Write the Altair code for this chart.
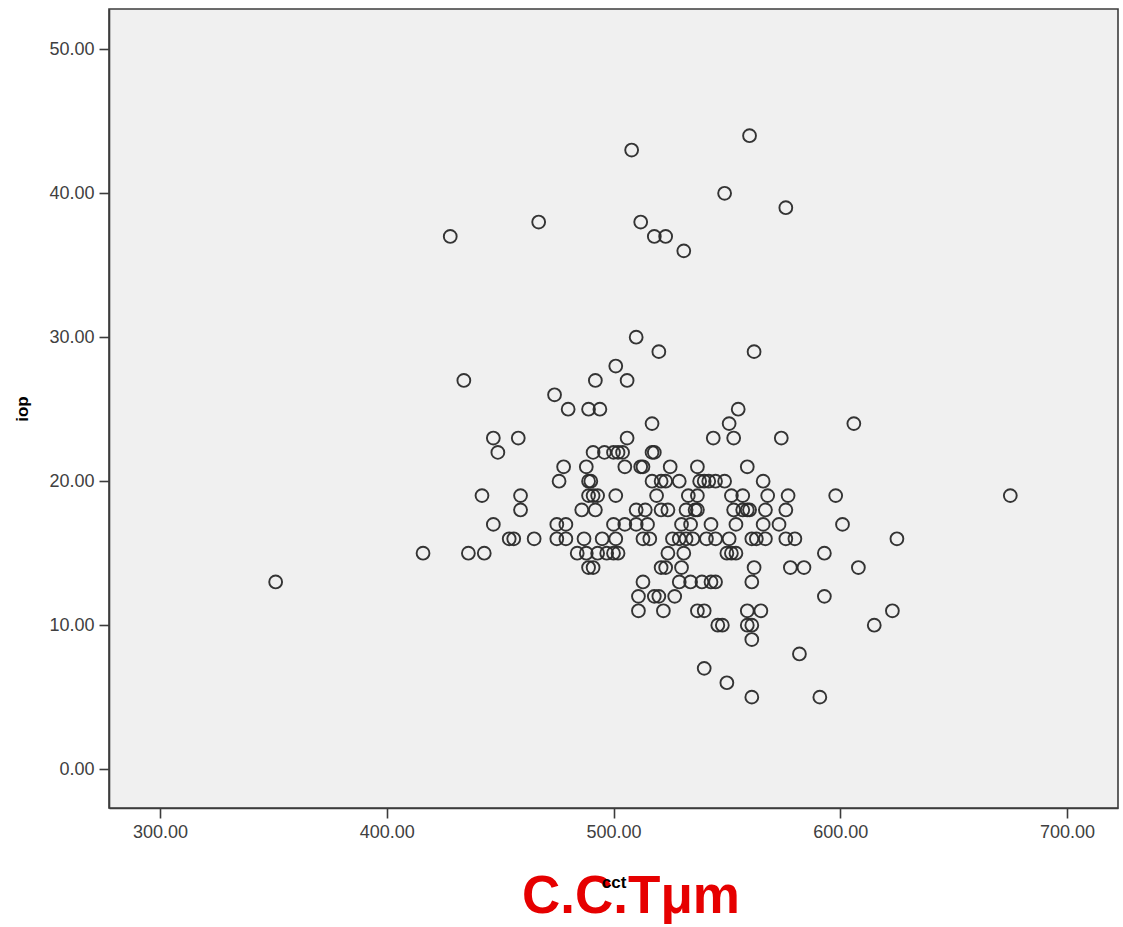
import altair as alt
import pandas as pd

# cct (x) and iop (y) values
cct = [
    560, 508, 549, 576, 467, 512, 428, 518, 523, 531,
    510, 520, 562, 501, 434, 492, 506, 474,
    480, 489, 494, 555,
    517, 551, 606,
    447, 458, 506, 544, 553, 574,
    449, 491, 496, 500, 502, 504, 517, 518,
    478, 488, 505, 512, 513, 525, 537, 559,
    476, 489, 490, 517, 521, 523, 529, 538, 540, 542, 545, 549, 566,
    442, 459, 489, 491, 493, 501, 519, 533, 537, 552, 557, 568, 577, 598, 675,
    459, 486, 492, 510, 514, 521, 524, 532, 536, 537, 553, 557, 559, 560, 567, 576,
    447, 475, 479, 500, 505, 510, 515, 530, 534, 543, 554, 566, 573, 601,
    454, 456, 465, 475, 479, 487, 495, 501, 513, 516, 526, 529, 532, 535, 541, 545, 551, 561, 563, 567, 576, 580, 625,
    416, 436, 443, 484, 488, 493, 497, 500, 502, 524, 531, 550, 552, 554, 593,
    489, 491, 521, 523, 530, 562, 578, 584, 608,
    351, 513, 529, 534, 539, 543, 545, 561,
    511, 518, 520, 527, 593,
    511, 522, 537, 540, 559, 565, 623,
    546, 548, 559, 561, 615,
    561, 582, 540, 550, 561, 591,
]
iop = [
    44, 43, 40, 39, 38, 38, 37, 37, 37, 36,
    30, 29, 29, 28, 27, 27, 27, 26,
    25, 25, 25, 25,
    24, 24, 24,
    23, 23, 23, 23, 23, 23,
    22, 22, 22, 22, 22, 22, 22, 22,
    21, 21, 21, 21, 21, 21, 21, 21,
    20, 20, 20, 20, 20, 20, 20, 20, 20, 20, 20, 20, 20,
    19, 19, 19, 19, 19, 19, 19, 19, 19, 19, 19, 19, 19, 19, 19,
    18, 18, 18, 18, 18, 18, 18, 18, 18, 18, 18, 18, 18, 18, 18, 18,
    17, 17, 17, 17, 17, 17, 17, 17, 17, 17, 17, 17, 17, 17,
    16, 16, 16, 16, 16, 16, 16, 16, 16, 16, 16, 16, 16, 16, 16, 16, 16, 16, 16, 16, 16, 16, 16,
    15, 15, 15, 15, 15, 15, 15, 15, 15, 15, 15, 15, 15, 15, 15,
    14, 14, 14, 14, 14, 14, 14, 14, 14,
    13, 13, 13, 13, 13, 13, 13, 13,
    12, 12, 12, 12, 12,
    11, 11, 11, 11, 11, 11, 11,
    10, 10, 10, 10, 10,
    9, 8, 7, 6, 5, 5,
]

x_ticks = [300, 400, 500, 600, 700]
y_ticks = [0, 10, 20, 30, 40, 50]
overlay_title = ["C.C.Tμm"]

df = pd.DataFrame({"cct": cct, "iop": iop})
tdf = pd.DataFrame({"t": overlay_title})

FONT = "Liberation Sans"

points = alt.Chart(df).mark_point(
    shape="circle", filled=False, size=165, strokeWidth=1.9,
    color="#2a2a2a", opacity=0.95,
).encode(
    x=alt.X("cct:Q",
            scale=alt.Scale(domain=[277.5, 722.5], nice=False, zero=False),
            axis=alt.Axis(values=x_ticks, format=".2f", title="cct",
                          grid=False, zindex=1, titleY=74,
                          titleBaseline="middle")),
    y=alt.Y("iop:Q",
            scale=alt.Scale(domain=[-2.7, 52.8], nice=False, zero=False),
            axis=alt.Axis(values=y_ticks, format=".2f", title="iop",
                          grid=False, titleX=-87, titleY=399.5,
                          titleAngle=-90, titleAlign="center",
                          titleBaseline="middle")),
)

red = alt.Chart(tdf).mark_text(
    font="Liberation Sans", fontSize=53, fontWeight="bold", color="#e60000",
    align="center", baseline="alphabetic",
).encode(text="t:N", x=alt.value(522), y=alt.value(904))

chart = alt.layer(red, points).properties(
    width=1009, height=799,
    autosize=alt.AutoSizeParams(type="none"),
    padding={"left": 109, "top": 9, "right": 5, "bottom": 119},
    background="white",
).configure_view(
    fill="#f0f0f0", stroke="#3c3c3c", strokeWidth=1.6,
).configure_axis(
    domainColor="#3c3c3c", domainWidth=1.6,
    tickColor="#3c3c3c", tickWidth=1.6, tickSize=10,
    labelFont=FONT, labelFontSize=18, labelColor="#404040", labelPadding=5,
    titleFont=FONT, titleFontSize=17, titleFontWeight="bold", titleColor="#000000",
)

chart.save("out.html", embed_options={"renderer": "svg", "actions": False})
